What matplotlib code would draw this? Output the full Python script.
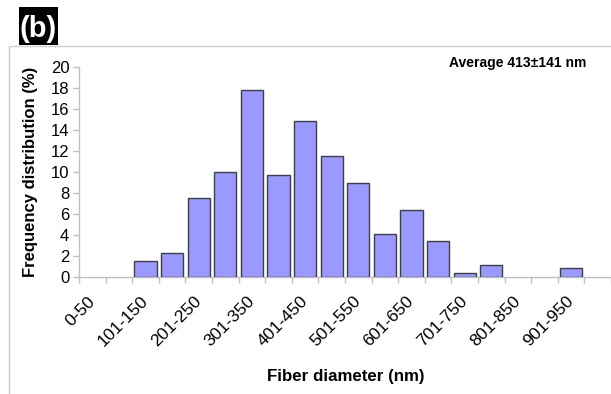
import matplotlib
matplotlib.use("Agg")
import matplotlib.pyplot as plt
from matplotlib.patches import Rectangle
from matplotlib.transforms import ScaledTranslation

plt.rcParams['font.family'] = ['Liberation Sans', 'DejaVu Sans']

categories = ["0-50", "51-100", "101-150", "151-200", "201-250", "251-300",
              "301-350", "351-400", "401-450", "451-500", "501-550", "551-600",
              "601-650", "651-700", "701-750", "751-800", "801-850", "851-900",
              "901-950", "951-1000"]
frequency = [0, 0, 1.5, 2.25, 7.5, 10.0, 17.8, 9.65, 14.85, 11.5, 8.9, 4.1,
             6.35, 3.4, 0.38, 1.14, 0, 0, 0.8, 0]
y_ticks = [0, 2, 4, 6, 8, 10, 12, 14, 16, 18, 20]

W, H = 611, 394
fig = plt.figure(figsize=(W / 100, H / 100), dpi=100)

# chart-area border
fig.patches.append(Rectangle((9 / W, -0.1), 1.2, 1 - 46 / H + 0.1,
                             transform=fig.transFigure, fill=False,
                             edgecolor='#d0d0d0', linewidth=1.0))

ax = fig.add_axes([79 / W, 1 - 276.7 / H, (611 - 79) / W, (276.7 - 66.7) / H])
x = list(range(len(categories)))
edges = ['#404040' if v > 0 else 'none' for v in frequency]
ax.bar(x, frequency, width=0.84, color='#9999ff', edgecolor=edges,
       linewidth=1.0, zorder=3)
ax.set_xlim(-0.5, len(categories) - 0.5)
ax.set_ylim(0, 20)
ax.set_yticks(y_ticks)
ax.set_yticklabels([str(v) for v in y_ticks], fontsize=12)

ax.set_xticks([i for i in x if i % 2 == 0])
ax.set_xticklabels([categories[i] for i in x if i % 2 == 0], rotation=45,
                   ha='right', va='center', rotation_mode='anchor',
                   fontsize=12.5)
shift = ScaledTranslation(-4 / 100, 0, fig.dpi_scale_trans)
for lbl in ax.get_xticklabels():
    lbl.set_transform(lbl.get_transform() + shift)
ax.set_xticks([i - 0.5 for i in x] + [len(x) - 0.5], minor=True)
ax.tick_params(axis='x', which='major', length=0, pad=16)
ax.tick_params(axis='x', which='minor', length=4, color='#c0c0c0', width=1)
ax.tick_params(axis='y', length=4, color='#c0c0c0', width=1, pad=3)

for s in ['top', 'right']:
    ax.spines[s].set_visible(False)
for s in ['left', 'bottom']:
    ax.spines[s].set_color('#c0c0c0')
    ax.spines[s].set_linewidth(1.0)

fig.text(31 / W, 1 - 171.7 / H, 'Frequency distribution (%)', rotation=90,
         ha='center', va='center', fontsize=12, fontweight='bold')
fig.text(346 / W, 1 - 376 / H, 'Fiber diameter (nm)', ha='center',
         va='center', fontsize=12.2, fontweight='bold')
fig.text(586 / W, 1 - 63.5 / H, 'Average 413\u00b1141 nm', ha='right',
         va='center', fontsize=10, fontweight='bold')

fig.patches.append(Rectangle((19 / W, 1 - 45 / H), 39 / W, 38 / H,
                             transform=fig.transFigure, facecolor='black',
                             edgecolor='none'))
fig.text(38.5 / W, 1 - 29 / H, '(b)', ha='center', va='center', fontsize=21,
         fontweight='bold', color='white')

fig.savefig('out.png', dpi=100)
